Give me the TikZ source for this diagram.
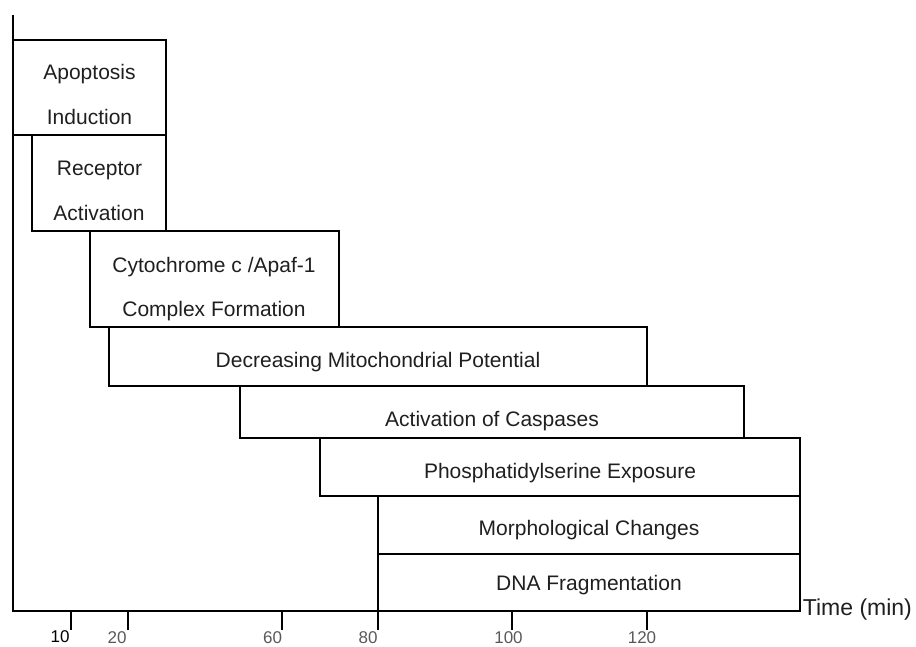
\documentclass[tikz,border=0pt]{standalone}
\usepackage{fontspec}
\setmainfont{Liberation Sans}
\begin{document}
\begin{tikzpicture}[x=1pt,y=-1pt,line width=1.8pt,
  lbl/.style={font=\fontsize{21}{24}\selectfont,anchor=base,inner sep=0pt,text=black!88},
  num/.style={font=\fontsize{17}{20}\selectfont,anchor=base east,inner sep=0pt,text=black!65},
  boxline/.style={draw=black,line width=1.8pt}]
\useasboundingbox (0,0) rectangle (916,646);
% boxes
\draw[boxline] (13,40) rectangle (166,135);
\draw[boxline] (32,135) rectangle (166,231);
\draw[boxline] (90,231) rectangle (339,327);
\draw[boxline] (109,327) rectangle (647,386);
\draw[boxline] (240,386) rectangle (744,438);
\draw[boxline] (320,438) rectangle (800,496);
\draw[boxline] (378,496) rectangle (800,554);
\draw[boxline] (378,554) rectangle (800,611);
% axes
\draw (13,15) -- (13,611) -- (800,611);
\draw (378,496) -- (378,630);
\draw (71,611) -- (71,630);
\draw (128,611) -- (128,630);
\draw (282,611) -- (282,630);
\draw (512,611) -- (512,630);
\draw (647,611) -- (647,630);
% labels
\node[lbl] (apo) at (89.5,79.5) {Apoptosis};
\node[lbl] (ind) at (89.5,124.5) {Induction};
\node[lbl] (rec) at (99.5,175.5) {Receptor};
\node[lbl] (act) at (99,220.5) {Activation};
\node[lbl] (cyt) at (214,272) {Cytochrome c /Apaf-1};
\node[lbl] (cpx) at (214,316) {Complex Formation};
\node[lbl] (dmp) at (378,367.5) {Decreasing Mitochondrial Potential};
\node[lbl] (cas) at (492,426) {Activation of Caspases};
\node[lbl] (pse) at (560,478) {Phosphatidylserine Exposure};
\node[lbl] (mor) at (589,535) {Morphological Changes};
\node[lbl] (dna) at (589,590) {DNA Fragmentation};
\node[font=\fontsize{23}{26}\selectfont,anchor=base west,inner sep=0pt,text=black!88] (time) at (802,615) {Time (min)};
% tick labels
\node[num,text=black] (t10) at (70.5,642) {10};
\node[num] (t20) at (127.5,643) {20};
\node[num] (t60) at (283,643) {60};
\node[num] (t80) at (378.5,643) {80};
\node[num,anchor=base] (t100) at (508.5,643) {100};
\node[num,anchor=base] (t120) at (642,643) {120};
\end{tikzpicture}
\end{document}
